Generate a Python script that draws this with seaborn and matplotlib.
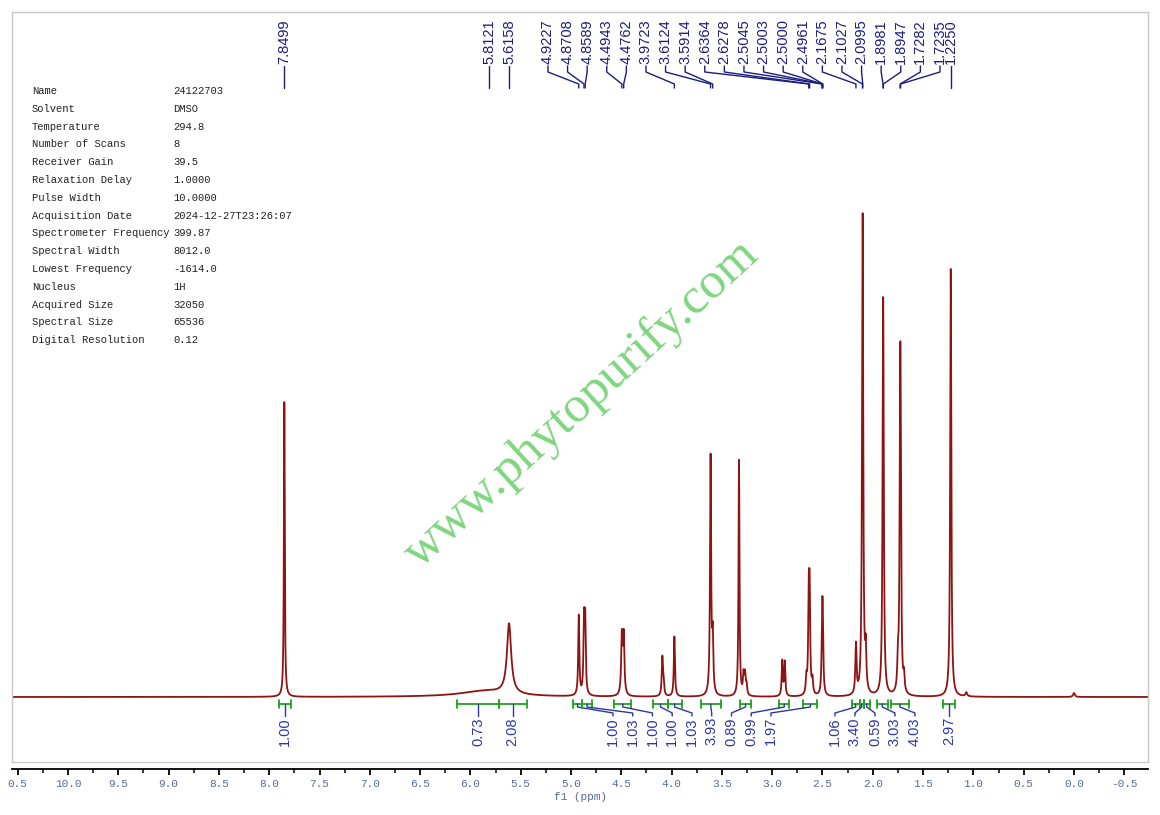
import numpy as np
import pandas as pd
import matplotlib
matplotlib.use('Agg')
import matplotlib.pyplot as plt
import seaborn as sns

sns.set_theme(style='white')
plt.rcParams['font.family'] = ['Liberation Sans', 'DejaVu Sans']

# peak list: shift (ppm), height, line width (ppm)
peak_ppm = [7.8499, 5.85, 5.6158, 4.9227, 4.8708, 4.8589, 4.4943, 4.4762,
            4.092, 4.080, 3.9723, 3.6124, 3.5914, 3.330, 3.285, 3.270, 3.255,
            2.900, 2.875, 2.660, 2.6364, 2.6278, 2.600, 2.5045, 2.5003, 2.4961,
            2.1675, 2.1027, 2.0995, 2.070, 1.8981, 1.8947, 1.750, 1.7282,
            1.7235, 1.690, 1.2250, 1.070, 0.000]
peak_height = [295, 6, 70, 80, 71, 71, 58, 58,
               38, 12, 60, 238, 54, 236, 20, 20, 10,
               35, 34, 16, 90, 90, 14, 32, 55, 32,
               50, 200, 308, 40, 245, 180, 28, 210,
               188, 16, 428, 4, 4]
peak_width = [0.010, 0.6, 0.05, 0.013, 0.013, 0.013, 0.016, 0.016,
              0.014, 0.014, 0.013, 0.013, 0.014, 0.011, 0.014, 0.014, 0.014,
              0.013, 0.013, 0.014, 0.013, 0.013, 0.014, 0.013, 0.013, 0.013,
              0.014, 0.013, 0.013, 0.014, 0.013, 0.013, 0.014, 0.013,
              0.013, 0.014, 0.013, 0.02, 0.02]

# shifts printed along the top
shift_labels = [7.8499, 5.8121, 5.6158, 4.9227, 4.8708, 4.8589, 4.4943, 4.4762,
                3.9723, 3.6124, 3.5914, 2.6364, 2.6278, 2.5045, 2.5003, 2.5000,
                2.4961, 2.1675, 2.1027, 2.0995, 1.8981, 1.8947, 1.7282, 1.7235,
                1.2250]

# integrals
int_from = [7.90, 6.13, 5.72, 4.98, 4.89, 4.57, 4.18, 4.04, 3.71, 3.32,
            2.93, 2.69, 2.21, 2.13, 2.09, 1.96, 1.82, 1.30]
int_to = [7.78, 5.72, 5.44, 4.89, 4.79, 4.40, 4.04, 3.90, 3.51, 3.21,
          2.83, 2.55, 2.13, 2.09, 2.03, 1.85, 1.64, 1.18]
int_values = [1.00, 0.73, 2.08, 1.00, 1.03, 1.00, 1.00, 1.03, 3.93, 0.89,
              0.99, 1.97, 1.06, 3.40, 0.59, 3.03, 4.03, 2.97]

param_names = ['Name', 'Solvent', 'Temperature', 'Number of Scans', 'Receiver Gain',
               'Relaxation Delay', 'Pulse Width', 'Acquisition Date',
               'Spectrometer Frequency', 'Spectral Width', 'Lowest Frequency',
               'Nucleus', 'Acquired Size', 'Spectral Size', 'Digital Resolution']
param_values = ['24122703', 'DMSO', '294.8', '8', '39.5', '1.0000', '10.0000',
                '2024-12-27T23:26:07', '399.87', '8012.0', '-1614.0', '1H',
                '32050', '65536', '0.12']

tick_pos = [10.5, 10.0, 9.5, 9.0, 8.5, 8.0, 7.5, 7.0, 6.5, 6.0, 5.5, 5.0, 4.5,
            4.0, 3.5, 3.0, 2.5, 2.0, 1.5, 1.0, 0.5, 0.0, -0.5]
tick_labels = ['0.5', '10.0', '9.5', '9.0', '8.5', '8.0', '7.5', '7.0', '6.5',
               '6.0', '5.5', '5.0', '4.5', '4.0', '3.5', '3.0', '2.5', '2.0',
               '1.5', '1.0', '0.5', '0.0', '-0.5']

# build the spectrum as a sum of lorentzian lines
ppm = np.linspace(10.56, -0.74, 24000)
spec = np.zeros_like(ppm)
for c, h, w in zip(peak_ppm, peak_height, peak_width):
    spec += h / (1 + ((ppm - c) / (w / 2)) ** 2)
df = pd.DataFrame({'ppm': ppm, 'intensity': spec})

fig = plt.figure(figsize=(11.6, 8.15), dpi=100)
ax = fig.add_axes([12 / 1160, 53 / 815, 1136 / 1160, 750 / 815])

sns.lineplot(data=df, x='ppm', y='intensity', ax=ax, color='#8e1414',
             linewidth=1.3, estimator=None, sort=False)
ax.set_xlim(10.557, -0.736)
ax.set_ylim(-65, 685)

peak_col = '#1c1c80'
int_col = '#2a36aa'
green = '#22a022'

# peak labels along the top
label_pos = list(shift_labels[:3]) + list(np.linspace(5.229, 1.332, 21)) + [shift_labels[-1]]
for v, lab in zip(shift_labels, label_pos):
    ax.plot([lab, lab, v, v], [631, 625, 613, 609], color=peak_col, lw=1.0)
    ax.text(lab, 633, f'{v:.4f}', rotation=90, ha='center', va='bottom',
            fontsize=10.5, color=peak_col)

# integrals
centers = [(a + b) / 2 for a, b in zip(int_from, int_to)]
int_pos = (centers[:3] + list(np.linspace(4.583, 3.012, 9))
           + list(np.linspace(2.376, 1.581, 5)) + [centers[-1]])
for a, b, val, c, lab in zip(int_from, int_to, int_values, centers, int_pos):
    ax.plot([a, b], [-7, -7], color=green, lw=1.3)
    ax.plot([a, a], [-3, -11], color=green, lw=1.3)
    ax.plot([b, b], [-3, -11], color=green, lw=1.3)
    ax.plot([c, c, lab, lab], [-7, -10, -16, -19], color=int_col, lw=1.0)
    ax.text(lab, -20, f'{val:.2f}', rotation=90, ha='center', va='top',
            fontsize=10.5, color=int_col)

# frame and axis
for side in ['top', 'left', 'right']:
    ax.spines[side].set_color('#c8c8c8')
    ax.spines[side].set_linewidth(1.0)
ax.spines['bottom'].set_position(('outward', 5))
ax.spines['bottom'].set_color('black')
ax.spines['bottom'].set_linewidth(1.3)
ax.plot([0, 1], [0, 0], transform=ax.transAxes, color='#c8c8c8', lw=1.0, clip_on=False)

ax.set_xticks(tick_pos)
ax.set_xticklabels(tick_labels, family='Liberation Mono', fontsize=8)
ax.set_xticks(np.arange(10.25, -0.75, -0.5), minor=True)
ax.tick_params(axis='x', which='major', bottom=True, direction='out', length=4.5,
               width=1.3, color='black', labelcolor='#5a6a92', pad=3)
ax.tick_params(axis='x', which='minor', bottom=True, direction='out', length=3,
               width=1.1, color='black')
ax.set_yticks([])
ax.set_ylabel('')
ax.set_xlabel('f1 (ppm)', family='Liberation Mono', fontsize=8, color='#5a6a92', labelpad=2)

# acquisition parameters
for i, (n, v) in enumerate(zip(param_names, param_values)):
    y = 1 - (91 + i * 17.8) / 815
    fig.text(32 / 1160, y, n, family='Liberation Mono', fontsize=7.6, color='#222222', va='center')
    fig.text(173 / 1160, y, v, family='Liberation Mono', fontsize=7.6, color='#222222', va='center')

# watermark
fig.text(590 / 1160, 1 - 413 / 815, 'www.phytopurify.com', rotation=42.4,
         rotation_mode='anchor', ha='center', va='baseline', fontsize=37,
         family='Liberation Serif', color='#80d680')

fig.savefig('out.png', dpi=100)
